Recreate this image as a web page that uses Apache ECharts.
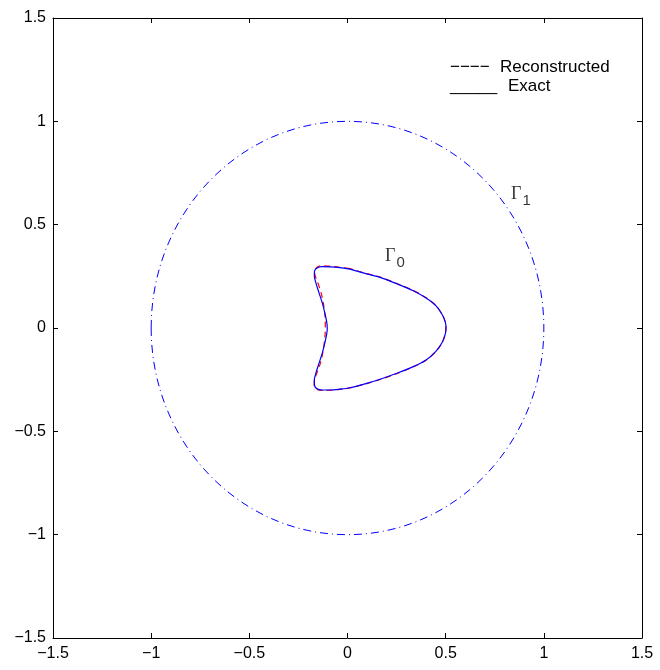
<!DOCTYPE html>
<html>
<head>
<meta charset="utf-8">
<script src="https://cdn.jsdelivr.net/npm/echarts@6/dist/echarts.min.js"></script>
<style>
  html, body { margin: 0; padding: 0; background: #fff; }
  #chart { width: 660px; height: 670px; }
</style>
</head>
<body>
<div id="chart"></div>
<script>
// Axis ticks (same on both axes)
const xTicks = [-1.5, -1, -0.5, 0, 0.5, 1, 1.5];
const yTicks = [-1.5, -1, -0.5, 0, 0.5, 1, 1.5];

// Outer boundary Γ1: centre and radius
const outerCircle = [[0, 0, 1]];

// Exact inner boundary Γ0 (closed contour, x/y pairs)
const exactBoundary = [
  [0.013, 0.285], [-0.040, 0.292], [-0.090, 0.296], [-0.130, 0.297],
  [-0.155, 0.290], [-0.168, 0.275], [-0.169, 0.252], [-0.160, 0.215],
  [-0.145, 0.170], [-0.128, 0.120], [-0.115, 0.070], [-0.106, 0.030],
  [-0.103, 0.000], [-0.106, -0.030], [-0.115, -0.070], [-0.128, -0.120],
  [-0.145, -0.170], [-0.160, -0.215], [-0.169, -0.252], [-0.168, -0.278],
  [-0.155, -0.294], [-0.130, -0.300], [-0.090, -0.300], [-0.040, -0.296],
  [0.013, -0.289], [0.098, -0.268], [0.166, -0.248], [0.251, -0.219],
  [0.335, -0.187], [0.400, -0.155], [0.450, -0.113], [0.482, -0.070],
  [0.498, -0.030], [0.502, 0.000], [0.498, 0.030], [0.484, 0.062],
  [0.450, 0.108], [0.400, 0.145], [0.335, 0.180], [0.251, 0.214],
  [0.166, 0.245], [0.098, 0.262], [0.013, 0.285]
];

// Reconstructed inner boundary
const reconstructedBoundary = [
  [0.013, 0.287], [-0.040, 0.294], [-0.090, 0.299], [-0.135, 0.301],
  [-0.158, 0.292], [-0.168, 0.270], [-0.160, 0.240], [-0.146, 0.205],
  [-0.133, 0.165], [-0.122, 0.115], [-0.115, 0.065], [-0.113, 0.030],
  [-0.113, 0.000], [-0.114, -0.030], [-0.118, -0.070], [-0.126, -0.120],
  [-0.138, -0.170], [-0.155, -0.215], [-0.168, -0.250], [-0.170, -0.278],
  [-0.157, -0.296], [-0.130, -0.302], [-0.090, -0.301], [-0.040, -0.297],
  [0.013, -0.290], [0.098, -0.269], [0.166, -0.249], [0.251, -0.221],
  [0.335, -0.188], [0.400, -0.156], [0.450, -0.114], [0.482, -0.071],
  [0.497, -0.031], [0.501, 0.000], [0.497, 0.030], [0.484, 0.062],
  [0.451, 0.108], [0.401, 0.146], [0.336, 0.181], [0.252, 0.215],
  [0.167, 0.246], [0.099, 0.263], [0.013, 0.287]
];

// Boundary labels: [x, y, subscript]
const boundaryLabels = [[0.191, 0.347, '0'], [0.833, 0.647, '1']];

const fontSans = 'Liberation Sans, Arial, Helvetica, sans-serif';
const fmt = v => String(v).replace('-', '\u2212');

const chart = echarts.init(document.getElementById('chart'), null, { renderer: 'canvas' });

const baseAxis = {
  type: 'value',
  min: -1.5,
  max: 1.5,
  interval: 0.5,
  splitLine: { show: false },
  axisLine: { show: true, onZero: false, lineStyle: { color: '#000', width: 1 } },
  axisTick: { show: true, inside: true, length: 5, lineStyle: { color: '#000' } }
};

chart.setOption({
  animation: false,
  backgroundColor: '#fff',
  grid: { left: 53, right: 18, top: 18, bottom: 32, containLabel: false },
  xAxis: [
    Object.assign({}, baseAxis, {
      position: 'bottom',
      axisLabel: {
        show: true, color: '#000', fontSize: 16, fontFamily: fontSans, margin: 8,
        formatter: v => xTicks.includes(v) ? fmt(v) : ''
      }
    }),
    Object.assign({}, baseAxis, { position: 'top', axisLabel: { show: false } })
  ],
  yAxis: [
    Object.assign({}, baseAxis, {
      position: 'left',
      axisLabel: {
        show: true, color: '#000', fontSize: 16, fontFamily: fontSans, margin: 7,
        formatter: v => yTicks.includes(v) ? fmt(v) : ''
      }
    }),
    Object.assign({}, baseAxis, { position: 'right', axisLabel: { show: false } })
  ],
  graphic: [
    { type: 'text', left: 450, top: 59, style: { text: '\u2212\u2212\u2212\u2212', font: '17px ' + fontSans, fill: '#000' } },
    { type: 'text', left: 500, top: 59, style: { text: 'Reconstructed', font: '17px ' + fontSans, fill: '#000' } },
    { type: 'text', left: 450, top: 78, style: { text: '_____', font: '17px ' + fontSans, fill: '#000' } },
    { type: 'text', left: 508, top: 78, style: { text: 'Exact', font: '17px ' + fontSans, fill: '#000' } }
  ],
  series: [
    {
      name: 'Γ1',
      type: 'custom',
      coordinateSystem: 'cartesian2d',
      silent: true,
      data: outerCircle,
      renderItem: (params, api) => {
        const c = api.coord([api.value(0), api.value(1)]);
        const s = api.size([api.value(2), api.value(2)]);
        return {
          type: 'ellipse',
          shape: { cx: c[0], cy: c[1], rx: s[0], ry: s[1] },
          style: { fill: 'none', stroke: '#0000ff', lineWidth: 1, lineDash: [8, 4, 1, 4] }
        };
      }
    },
    {
      name: 'Reconstructed',
      type: 'line',
      data: reconstructedBoundary,
      showSymbol: false,
      smooth: 0.3,
      lineStyle: { color: '#ff0000', width: 1.2, type: [6, 4] },
      z: 3
    },
    {
      name: 'Exact',
      type: 'line',
      data: exactBoundary,
      showSymbol: false,
      smooth: 0.3,
      lineStyle: { color: '#0000ff', width: 1.2, type: 'solid' },
      z: 4
    },
    {
      name: 'labels',
      type: 'scatter',
      data: boundaryLabels,
      symbolSize: 0,
      silent: true,
      z: 5,
      label: {
        show: true,
        position: 'right',
        distance: 0,
        formatter: p => '{g|\u0393}{s|' + p.value[2] + '}',
        rich: {
          g: { fontFamily: 'Liberation Serif, Times New Roman, serif', fontSize: 18, color: '#000' },
          s: { fontFamily: fontSans, fontSize: 15, color: '#000', padding: [14, 0, 0, 1] }
        }
      }
    }
  ]
});
</script>
</body>
</html>
